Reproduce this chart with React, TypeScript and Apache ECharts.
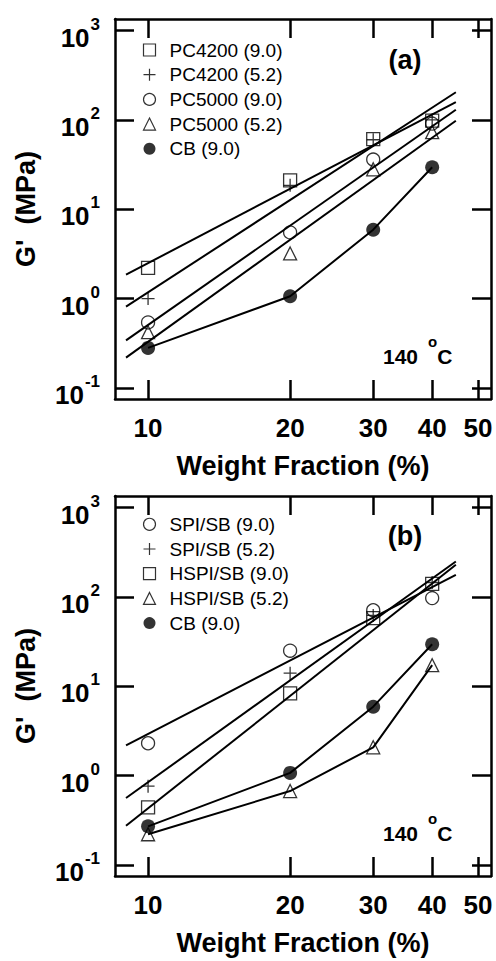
import React, { useEffect, useRef } from "react";
import * as echarts from "echarts";

// ---------- data ----------
const weightFractions = [10, 20, 30, 40];
const fitRange = [8.98, 44.9];
const xTicks = [10, 20, 30, 40, 50];
const yTickExponents = [-1, 0, 1, 2, 3];

// panel (a)
const pc4200_90 = [2.2, 21, 61, 98];
const pc4200_52 = [1.0, 18.5, 60, 100];
const pc5000_90 = [0.54, 5.5, 36, 91];
const pc5000_52 = [0.42, 3.2, 28, 73];
const cbA = [0.28, 1.06, 5.9, 29.5];
const fitA_pc4200_90 = [1.85, 158];
const fitA_pc4200_52 = [0.81, 204];
const fitA_pc5000_90 = [0.34, 130];
const fitA_pc5000_52 = [0.218, 98];

// panel (b)
const spi_90 = [2.3, 25, 71, 97];
const spi_52 = [0.76, 14, 62, 145];
const hspi_90 = [0.44, 8.3, 58, 140];
const hspi_52 = [0.22, 0.67, 2.07, 17.2];
const cbB = [0.27, 1.07, 5.9, 29.5];
const fitB_spi_90 = [2.17, 177];
const fitB_spi_52 = [0.56, 249];
const fitB_hspi_90 = [0.274, 229];

const namesA = ["PC4200 (9.0)", "PC4200 (5.2)", "PC5000 (9.0)", "PC5000 (5.2)", "CB (9.0)"];
const namesB = ["SPI/SB (9.0)", "SPI/SB (5.2)", "HSPI/SB (9.0)", "HSPI/SB (5.2)", "CB (9.0)"];

// ---------- styling ----------
const FONT = "'Liberation Sans', Arial, Helvetica, sans-serif";
const BLACK = "#000";
const PLUS = "path://M5,0L5,10M0,5L10,5";

type Kind = "square" | "plus" | "circle" | "triangle" | "dot";
const markers: Record<Kind, any> = {
  square: { symbol: "rect", size: 13, itemStyle: { color: "none", borderColor: BLACK, borderWidth: 1.3 } },
  plus: { symbol: PLUS, size: 13, itemStyle: { color: "none", borderColor: BLACK, borderWidth: 1.3 } },
  circle: { symbol: "circle", size: 13, itemStyle: { color: "none", borderColor: BLACK, borderWidth: 1.3 } },
  triangle: { symbol: "triangle", size: 13, itemStyle: { color: "none", borderColor: BLACK, borderWidth: 1.3 } },
  dot: { symbol: "circle", size: 14, itemStyle: { color: BLACK, borderColor: BLACK, borderWidth: 0 } },
};

const lg = (v: number) => Math.log10(v);
const pts = (xs: number[], ys: number[]) => xs.map((x, i) => [lg(x), lg(ys[i])]);

function scatter(name: string, ys: number[], panel: number, kind: Kind) {
  const m = markers[kind];
  return {
    type: "scatter",
    name,
    xAxisIndex: panel * 2,
    yAxisIndex: panel * 2,
    data: pts(weightFractions, ys),
    symbol: m.symbol,
    symbolSize: m.size,
    itemStyle: m.itemStyle,
    z: 5,
    silent: true,
  };
}

function line(data: number[][], panel: number) {
  return {
    type: "line",
    xAxisIndex: panel * 2,
    yAxisIndex: panel * 2,
    data,
    symbol: "none",
    lineStyle: { color: BLACK, width: 2 },
    z: 3,
    silent: true,
  };
}

const fit = (ys: number[], panel: number) => line(pts(fitRange, ys), panel);
const connect = (ys: number[], panel: number) => line(pts(weightFractions, ys), panel);

function legendData(names: string[], kinds: Kind[]) {
  return names.map((n, i) => {
    const m = markers[kinds[i]];
    return { name: n, icon: m.symbol, itemStyle: { ...m.itemStyle, borderWidth: m.itemStyle.borderWidth ? 1.2 : 0 } };
  });
}

const X_MIN = lg(8.51);
const X_MAX = lg(53.3);
const Y_MIN = -1.125;
const Y_MAX = 3.13;

const tickStyle = { show: true, inside: true, length: 19, lineStyle: { color: BLACK, width: 2.5 } };
const lineStyleAxis = { show: true, onZero: false, lineStyle: { color: BLACK, width: 2.5 } };

function xAxes(gridIndex: number) {
  const custom = xTicks.map(lg);
  return [
    {
      type: "value",
      gridIndex,
      min: X_MIN,
      max: X_MAX,
      position: "bottom",
      axisLine: lineStyleAxis,
      axisTick: { ...tickStyle, customValues: custom },
      splitLine: { show: false },
      axisLabel: {
        customValues: custom,
        margin: 16,
        color: BLACK,
        fontFamily: FONT,
        fontWeight: "bold",
        fontSize: 26,
        lineHeight: 26,
        formatter: (v: number) => String(Math.round(Math.pow(10, v))),
      },
      name: "Weight Fraction (%)",
      nameLocation: "middle",
      nameGap: 53,
      nameTextStyle: { color: BLACK, fontFamily: FONT, fontWeight: "bold", fontSize: 27, lineHeight: 27 },
    },
    {
      type: "value",
      gridIndex,
      min: X_MIN,
      max: X_MAX,
      position: "top",
      axisLine: lineStyleAxis,
      axisTick: { ...tickStyle, customValues: custom },
      splitLine: { show: false },
      axisLabel: { show: false, customValues: custom },
    },
  ];
}

function yAxes(gridIndex: number) {
  return [
    {
      type: "value",
      gridIndex,
      min: Y_MIN,
      max: Y_MAX,
      position: "left",
      axisLine: lineStyleAxis,
      axisTick: { ...tickStyle, customValues: yTickExponents },
      splitLine: { show: false },
      axisLabel: {
        customValues: yTickExponents,
        margin: 15,
        formatter: (v: number) => `{b|10}{s|${Math.round(v)}}`,
        rich: {
          b: {
            color: BLACK, fontFamily: FONT, fontWeight: "bold", fontSize: 26, lineHeight: 40,
            verticalAlign: "bottom", padding: [14, 0, 0, 0],
          },
          s: {
            color: BLACK, fontFamily: FONT, fontWeight: "bold", fontSize: 17, lineHeight: 22,
            verticalAlign: "top", padding: [5, 0, 0, 1],
          },
        },
      },
      name: "G'  (MPa)",
      nameLocation: "middle",
      nameGap: 76,
      nameTextStyle: { color: BLACK, fontFamily: FONT, fontWeight: "bold", fontSize: 27, lineHeight: 27 },
    },
    {
      type: "value",
      gridIndex,
      min: Y_MIN,
      max: Y_MAX,
      position: "right",
      axisLine: lineStyleAxis,
      axisTick: { ...tickStyle, customValues: yTickExponents },
      splitLine: { show: false },
      axisLabel: { show: false, customValues: yTickExponents },
    },
  ];
}

function legend(names: string[], kinds: Kind[], top: number) {
  return {
    orient: "vertical",
    left: 141,
    top,
    padding: 0,
    itemWidth: 12,
    itemHeight: 12,
    itemGap: 5.7,
    selectedMode: false,
    textStyle: { color: BLACK, fontFamily: FONT, fontSize: 19, lineHeight: 19, padding: [0, 0, 0, 9] },
    data: legendData(names, kinds),
  };
}

function tempLabel(y: number) {
  return {
    type: "text",
    x: 383,
    y,
    silent: true,
    style: {
      text: "{n|140 }{s| o}{n|C}",
      align: "left",
      verticalAlign: "middle",
      fill: BLACK,
      rich: {
        n: { fontFamily: FONT, fontWeight: "bold", fontSize: 21, lineHeight: 33, verticalAlign: "bottom", padding: [12, 0, 0, 0], fill: BLACK },
        s: { fontFamily: FONT, fontWeight: "bold", fontSize: 15, lineHeight: 15, verticalAlign: "top", fill: BLACK },
      },
    },
  };
}

function panelLabel(text: string, y: number) {
  return {
    type: "text",
    x: 405,
    y,
    silent: true,
    style: { text, fontFamily: FONT, fontWeight: "bold", fontSize: 27, fill: BLACK, align: "center", verticalAlign: "middle" },
  };
}

const kindsA: Kind[] = ["square", "plus", "circle", "triangle", "dot"];
const kindsB: Kind[] = ["circle", "plus", "square", "triangle", "dot"];

export default function App() {
  const ref = useRef<HTMLDivElement>(null);
  useEffect(() => {
    if (!ref.current) return;
    const chart = echarts.init(ref.current, undefined, { renderer: "svg" });
    const option: any = {
      animation: false,
      backgroundColor: "#fff",
      grid: [
        { left: 115, top: 19, width: 376, height: 380, containLabel: false },
        { left: 115, top: 496, width: 376, height: 380, containLabel: false },
      ],
      xAxis: [...xAxes(0), ...xAxes(1)],
      yAxis: [...yAxes(0), ...yAxes(1)],
      legend: [legend(namesA, kindsA, 40.5), legend(namesB, kindsB, 514.8)],
      graphic: [panelLabel("(a)", 60), panelLabel("(b)", 536), tempLabel(350), tempLabel(827)],
      series: [
        // panel a lines
        fit(fitA_pc4200_90, 0),
        fit(fitA_pc4200_52, 0),
        fit(fitA_pc5000_90, 0),
        fit(fitA_pc5000_52, 0),
        connect(cbA, 0),
        // panel a points
        scatter(namesA[0], pc4200_90, 0, "square"),
        scatter(namesA[1], pc4200_52, 0, "plus"),
        scatter(namesA[2], pc5000_90, 0, "circle"),
        scatter(namesA[3], pc5000_52, 0, "triangle"),
        scatter(namesA[4], cbA, 0, "dot"),
        // panel b lines
        fit(fitB_spi_90, 1),
        fit(fitB_spi_52, 1),
        fit(fitB_hspi_90, 1),
        connect(hspi_52, 1),
        connect(cbB, 1),
        // panel b points
        scatter(namesB[0], spi_90, 1, "circle"),
        scatter(namesB[1], spi_52, 1, "plus"),
        scatter(namesB[2], hspi_90, 1, "square"),
        scatter(namesB[3], hspi_52, 1, "triangle"),
        scatter(namesB[4], cbB, 1, "dot"),
      ],
    };
    chart.setOption(option);
    return () => chart.dispose();
  }, []);
  return (
    <div
      ref={ref}
      style={{ position: "absolute", left: 0, top: 0, width: 496, height: 961, background: "#fff" }}
    />
  );
}
